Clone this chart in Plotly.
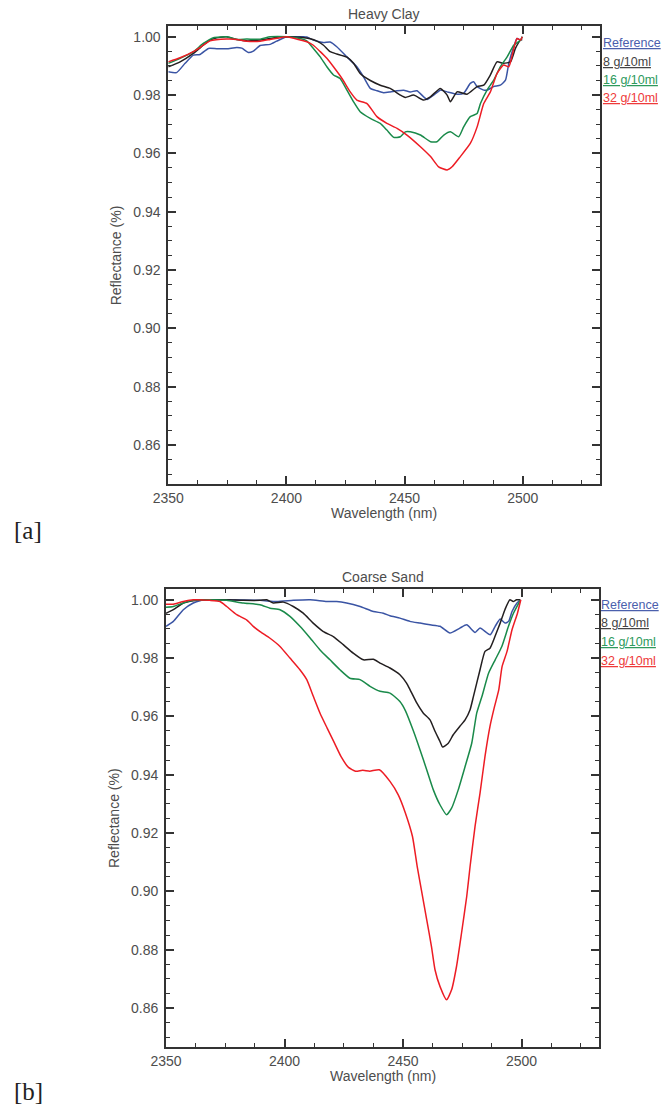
import plotly.graph_objects as go

# ---------------- Data ----------------
X_TICKS = [2350, 2400, 2450, 2500]
Y_TICKS = [0.86, 0.88, 0.90, 0.92, 0.94, 0.96, 0.98, 1.00]
SERIES_NAMES = ["Reference", "8 g/10ml", "16 g/10ml", "32 g/10ml"]

# Heavy Clay
clay_ref_wl = [2350.0, 2353.5, 2357.1, 2360.6, 2363.4, 2367.0, 2370.5, 2374.7, 2379.0, 2381.1, 2383.9, 2386.0,
               2388.9, 2393.1, 2395.9, 2400.2, 2403.0, 2407.2, 2408.6, 2411.4, 2415.7, 2418.5, 2421.3, 2425.6,
               2429.8, 2432.6, 2435.5, 2438.3, 2441.1, 2443.9, 2446.8, 2449.6, 2452.4, 2455.2, 2459.5, 2462.3,
               2465.1, 2468.0, 2472.2, 2475.0, 2477.8, 2479.2, 2480.7, 2483.5, 2484.9, 2487.7, 2490.5, 2492.7,
               2494.1, 2496.2, 2497.6, 2499.1, 2499.8]
clay_ref_r = [0.9880, 0.9877, 0.9909, 0.9937, 0.9939, 0.9960, 0.9959, 0.9959, 0.9963, 0.9961, 0.9946, 0.9951,
              0.9970, 0.9974, 0.9985, 1.0000, 1.0000, 1.0000, 0.9999, 0.9989, 0.9980, 0.9982, 0.9966, 0.9931,
              0.9897, 0.9863, 0.9823, 0.9815, 0.9808, 0.9811, 0.9815, 0.9817, 0.9811, 0.9815, 0.9785, 0.9800,
              0.9817, 0.9811, 0.9803, 0.9806, 0.9840, 0.9846, 0.9829, 0.9817, 0.9817, 0.9829, 0.9834, 0.9851,
              0.9909, 0.9966, 0.9994, 0.9989, 1.0000]

clay_8_wl = [2350.0, 2355.0, 2360.6, 2364.8, 2367.7, 2371.9, 2374.7, 2379.0, 2383.2, 2388.9, 2393.1, 2397.3,
             2400.2, 2405.8, 2410.1, 2412.9, 2415.7, 2418.5, 2421.3, 2425.6, 2428.4, 2431.2, 2435.5, 2439.7,
             2443.9, 2448.2, 2450.3, 2453.8, 2458.1, 2460.9, 2465.1, 2468.0, 2469.4, 2472.2, 2476.4, 2480.7,
             2483.5, 2486.3, 2489.1, 2491.9, 2494.8, 2496.9, 2499.1, 2499.8]
clay_8_r = [0.9897, 0.9914, 0.9943, 0.9971, 0.9989, 0.9998, 1.0000, 0.9991, 0.9986, 0.9989, 0.9994, 1.0000,
            1.0000, 0.9998, 0.9993, 0.9985, 0.9971, 0.9949, 0.9941, 0.9930, 0.9909, 0.9874, 0.9850, 0.9834,
            0.9823, 0.9800, 0.9792, 0.9800, 0.9783, 0.9794, 0.9823, 0.9800, 0.9777, 0.9811, 0.9803, 0.9829,
            0.9834, 0.9869, 0.9914, 0.9909, 0.9914, 0.9960, 0.9989, 0.9991]

clay_16_wl = [2350.0, 2355.0, 2360.6, 2364.8, 2369.1, 2374.7, 2379.0, 2383.2, 2388.9, 2393.1, 2400.2, 2405.8,
              2408.6, 2411.4, 2414.3, 2417.1, 2419.9, 2422.7, 2425.6, 2428.4, 2431.2, 2435.5, 2439.7, 2442.5,
              2445.4, 2448.2, 2450.3, 2452.4, 2456.7, 2461.0, 2463.7, 2466.6, 2469.4, 2472.9, 2475.0, 2477.8,
              2480.7, 2482.1, 2484.9, 2487.7, 2490.5, 2493.4, 2496.2, 2499.1, 2499.8]
clay_16_r = [0.9909, 0.9926, 0.9949, 0.9977, 0.9997, 1.0000, 0.9991, 0.9992, 0.9992, 1.0000, 1.0000, 0.9994,
             0.9986, 0.9960, 0.9931, 0.9897, 0.9869, 0.9857, 0.9817, 0.9777, 0.9743, 0.9720, 0.9703, 0.9680,
             0.9655, 0.9657, 0.9674, 0.9674, 0.9663, 0.9640, 0.9640, 0.9663, 0.9674, 0.9657, 0.9691, 0.9726,
             0.9737, 0.9771, 0.9817, 0.9851, 0.9897, 0.9931, 0.9971, 0.9989, 1.0000]

clay_32_wl = [2350.0, 2355.0, 2360.6, 2364.8, 2367.7, 2374.7, 2379.0, 2383.2, 2388.9, 2393.1, 2397.3, 2400.2,
              2405.8, 2408.6, 2411.4, 2414.3, 2417.1, 2419.9, 2423.5, 2427.0, 2429.8, 2434.1, 2438.3, 2442.5,
              2446.8, 2451.0, 2456.7, 2461.0, 2464.4, 2468.0, 2470.1, 2473.6, 2477.8, 2480.7, 2483.5, 2486.3,
              2489.1, 2491.9, 2494.1, 2496.2, 2497.6, 2499.1, 2499.8]
clay_32_r = [0.9914, 0.9928, 0.9949, 0.9971, 0.9986, 0.9992, 0.9991, 0.9985, 0.9985, 0.9991, 0.9997, 1.0000,
             0.9989, 0.9983, 0.9971, 0.9949, 0.9926, 0.9897, 0.9857, 0.9811, 0.9783, 0.9771, 0.9726, 0.9703,
             0.9686, 0.9663, 0.9623, 0.9589, 0.9554, 0.9543, 0.9554, 0.9589, 0.9634, 0.9691, 0.9771, 0.9811,
             0.9874, 0.9903, 0.9897, 0.9960, 0.9994, 0.9989, 1.0000]

# Coarse Sand
sand_ref_wl = [2350.0, 2353.1, 2357.3, 2361.5, 2364.3, 2368.6, 2375.6, 2389.7, 2396.7, 2403.7, 2410.8, 2417.8,
               2422.0, 2426.2, 2431.9, 2437.5, 2441.7, 2444.5, 2448.7, 2452.9, 2457.2, 2461.4, 2465.6, 2469.8,
               2474.0, 2476.9, 2480.4, 2482.5, 2486.8, 2488.9, 2491.0, 2493.1, 2494.6, 2496.0, 2498.1, 2499.6]
sand_ref_r = [0.9909, 0.9926, 0.9966, 0.9989, 0.9997, 1.0000, 1.0000, 0.9998, 0.9994, 0.9998, 1.0000, 0.9994,
              0.9994, 0.9989, 0.9977, 0.9960, 0.9954, 0.9945, 0.9937, 0.9926, 0.9920, 0.9914, 0.9909, 0.9886,
              0.9903, 0.9914, 0.9888, 0.9903, 0.9880, 0.9909, 0.9934, 0.9920, 0.9926, 0.9960, 0.9989, 1.0000]

sand_8_wl = [2350.0, 2353.1, 2357.3, 2361.5, 2365.8, 2375.6, 2382.6, 2389.7, 2392.5, 2395.3, 2399.5, 2403.7,
             2407.9, 2412.1, 2416.4, 2420.6, 2424.8, 2429.0, 2433.3, 2437.5, 2440.3, 2444.5, 2448.7, 2451.5,
             2453.0, 2455.8, 2458.6, 2461.4, 2463.5, 2465.6, 2466.7, 2469.1, 2471.2, 2474.0, 2476.2, 2478.3,
             2479.7, 2482.5, 2484.6, 2486.7, 2488.8, 2491.0, 2493.0, 2495.1, 2496.5, 2497.9, 2499.4]
sand_8_r = [0.9954, 0.9966, 0.9989, 0.9997, 1.0000, 1.0000, 0.9998, 0.9998, 1.0000, 0.9989, 0.9992, 0.9977,
            0.9954, 0.9920, 0.9891, 0.9874, 0.9846, 0.9817, 0.9794, 0.9796, 0.9783, 0.9766, 0.9743, 0.9714,
            0.9691, 0.9646, 0.9611, 0.9588, 0.9549, 0.9514, 0.9495, 0.9508, 0.9537, 0.9566, 0.9588, 0.9623,
            0.9668, 0.9760, 0.9823, 0.9834, 0.9874, 0.9920, 0.9966, 1.0000, 0.9994, 1.0000, 1.0000]

sand_16_wl = [2350.0, 2353.1, 2357.3, 2361.5, 2368.6, 2375.6, 2382.6, 2389.7, 2393.9, 2398.1, 2402.3, 2406.5,
              2410.8, 2415.0, 2419.2, 2423.4, 2427.6, 2431.9, 2436.1, 2440.3, 2444.5, 2448.7, 2451.0, 2454.4,
              2457.2, 2460.0, 2462.8, 2465.6, 2468.4, 2470.5, 2473.3, 2476.2, 2479.0, 2481.1, 2483.3, 2486.1,
              2488.9, 2491.7, 2494.5, 2496.6, 2499.6]
sand_16_r = [0.9974, 0.9977, 0.9989, 0.9998, 1.0000, 0.9998, 0.9989, 0.9983, 0.9971, 0.9966, 0.9943, 0.9909,
             0.9869, 0.9828, 0.9794, 0.9760, 0.9731, 0.9726, 0.9703, 0.9686, 0.9680, 0.9651, 0.9620, 0.9550,
             0.9485, 0.9417, 0.9348, 0.9297, 0.9263, 0.9285, 0.9348, 0.9428, 0.9508, 0.9611, 0.9668, 0.9748,
             0.9794, 0.9840, 0.9909, 0.9954, 1.0000]

sand_32_wl = [2350.0, 2353.1, 2357.3, 2361.5, 2368.6, 2372.8, 2375.6, 2379.8, 2384.0, 2386.8, 2389.7, 2393.9,
              2398.1, 2402.3, 2406.5, 2409.4, 2412.2, 2415.0, 2418.0, 2421.0, 2424.0, 2427.0, 2430.0, 2433.0,
              2436.0, 2440.0, 2444.5, 2448.0, 2451.0, 2454.0, 2456.0, 2458.0, 2460.0, 2462.0, 2463.5, 2465.6,
              2468.4, 2470.5, 2472.6, 2474.7, 2476.9, 2478.3, 2480.4, 2482.5, 2484.6, 2486.7, 2488.5, 2490.4,
              2491.8, 2493.9, 2496.0, 2498.3, 2499.7]
sand_32_r = [0.9985, 0.9985, 0.9994, 1.0000, 0.9998, 0.9994, 0.9977, 0.9949, 0.9931, 0.9909, 0.9891, 0.9868,
             0.9840, 0.9800, 0.9760, 0.9726, 0.9668, 0.9611, 0.9560, 0.9510, 0.9460, 0.9425, 0.9412, 0.9415,
             0.9412, 0.9417, 0.9377, 0.9331, 0.9269, 0.9188, 0.9085, 0.8994, 0.8903, 0.8811, 0.8731, 0.8674,
             0.8628, 0.8662, 0.8743, 0.8857, 0.8983, 0.9085, 0.9223, 0.9337, 0.9463, 0.9566, 0.9630, 0.9691,
             0.9771, 0.9823, 0.9897, 0.9954, 1.0000]

# ---------------- Styling ----------------
W, H = 662, 1108
LINE_COLORS = ["#3a54a4", "#231f20", "#1a8a4a", "#ed1c24"]
TEXT_COLORS = ["#4b60ad", "#444444", "#2e9a5c", "#ee3a3a"]
FONT = "Liberation Sans, Arial, sans-serif"
AX_COLOR = "#333333"
TXT = "#4d4d4d"


def px_x(p):
    return p / W


def px_y(p):
    return 1 - p / H


panels = [
    dict(title="Heavy Clay",
         series=[(clay_ref_wl, clay_ref_r), (clay_8_wl, clay_8_r), (clay_16_wl, clay_16_r), (clay_32_wl, clay_32_r)],
         left=168.3, right=600.0, top=26.0, bottom=484.0, legend_x=600.5, legend_y=[43, 61.5, 80, 98.3],
         tag="[a]", tag_y=530),
    dict(title="Coarse Sand",
         series=[(sand_ref_wl, sand_ref_r), (sand_8_wl, sand_8_r), (sand_16_wl, sand_16_r), (sand_32_wl, sand_32_r)],
         left=166.0, right=599.0, top=589.0, bottom=1047.0, legend_x=598.5, legend_y=[605, 623.3, 642, 660.7],
         tag="[b]", tag_y=1091),
]

fig = go.Figure()
annotations = []
layout = dict(
    width=W, height=H, margin=dict(l=0, r=0, t=0, b=0, autoexpand=False),
    paper_bgcolor="white", plot_bgcolor="white", showlegend=False,
    font=dict(family=FONT, size=14, color=TXT),
)

for i, p in enumerate(panels):
    xa = "x" if i == 0 else "x2"
    ya = "y" if i == 0 else "y2"
    for (wl, r), c in zip(p["series"], LINE_COLORS):
        fig.add_trace(go.Scatter(x=wl, y=r, mode="lines",
                                 line=dict(color=c, width=1.5, shape="spline", smoothing=0.5),
                                 xaxis=xa, yaxis=ya, hoverinfo="skip"))
    common = dict(showline=True, linecolor=AX_COLOR, linewidth=1.8, mirror="allticks",
                  ticks="inside", tickcolor=AX_COLOR, tickwidth=1.5, ticklen=8,
                  showgrid=False, zeroline=False, automargin=False,
                  tickfont=dict(family=FONT, size=14, color=TXT))
    layout["xaxis" if i == 0 else "xaxis2"] = dict(
        common, domain=[px_x(p["left"]), px_x(p["right"])], anchor=ya,
        range=[2350, 2532.7], tickmode="array", tickvals=X_TICKS, ticktext=[str(v) for v in X_TICKS],
        minor=dict(dtick=12.5, tick0=2350, ticks="inside", ticklen=4, tickcolor=AX_COLOR, tickwidth=1.3, showgrid=False),
    )
    layout["yaxis" if i == 0 else "yaxis2"] = dict(
        common, domain=[px_y(p["bottom"]), px_y(p["top"])], anchor=xa,
        range=[0.8466, 1.0037], tickmode="array", tickvals=Y_TICKS, ticktext=["%.2f" % v for v in Y_TICKS],
        ticklabelstandoff=3,
        minor=dict(dtick=0.005, tick0=0.86, ticks="inside", ticklen=4, tickcolor=AX_COLOR, tickwidth=1.3, showgrid=False),
    )
    cx = (p["left"] + p["right"]) / 2
    # panel title
    annotations.append(dict(text=p["title"], xref="paper", yref="paper",
                            x=px_x(cx), y=px_y(p["top"] - 12),
                            xanchor="center", yanchor="middle", showarrow=False,
                            font=dict(family=FONT, size=14, color=TXT)))
    # axis titles
    annotations.append(dict(text="Wavelength (nm)", xref="paper", yref="paper",
                            x=px_x(cx), y=px_y(p["bottom"] + 19),
                            xanchor="center", yanchor="top", showarrow=False,
                            font=dict(family=FONT, size=14, color=TXT)))
    annotations.append(dict(text="Reflectance (%)", xref="paper", yref="paper", textangle=-90,
                            x=px_x(p["left"] - 52), y=px_y((p["top"] + p["bottom"]) / 2),
                            xanchor="center", yanchor="middle", showarrow=False,
                            font=dict(family=FONT, size=14, color=TXT)))
    # legend entries as underlined coloured text
    for name, tc, ly in zip(SERIES_NAMES, TEXT_COLORS, p["legend_y"]):
        annotations.append(dict(text='<span style="text-decoration:underline">%s</span>' % name,
                                xref="paper", yref="paper", x=px_x(p["legend_x"]), y=px_y(ly),
                                xanchor="left", yanchor="middle", showarrow=False,
                                font=dict(family=FONT, size=12.5, color=tc)))
    annotations.append(dict(text=p["tag"], xref="paper", yref="paper", x=px_x(12), y=px_y(p["tag_y"]),
                            xanchor="left", yanchor="middle", showarrow=False,
                            font=dict(family="Liberation Serif, serif", size=25, color="#222222")))

layout["annotations"] = annotations
fig.update_layout(**layout)
fig.write_html("out.html")
